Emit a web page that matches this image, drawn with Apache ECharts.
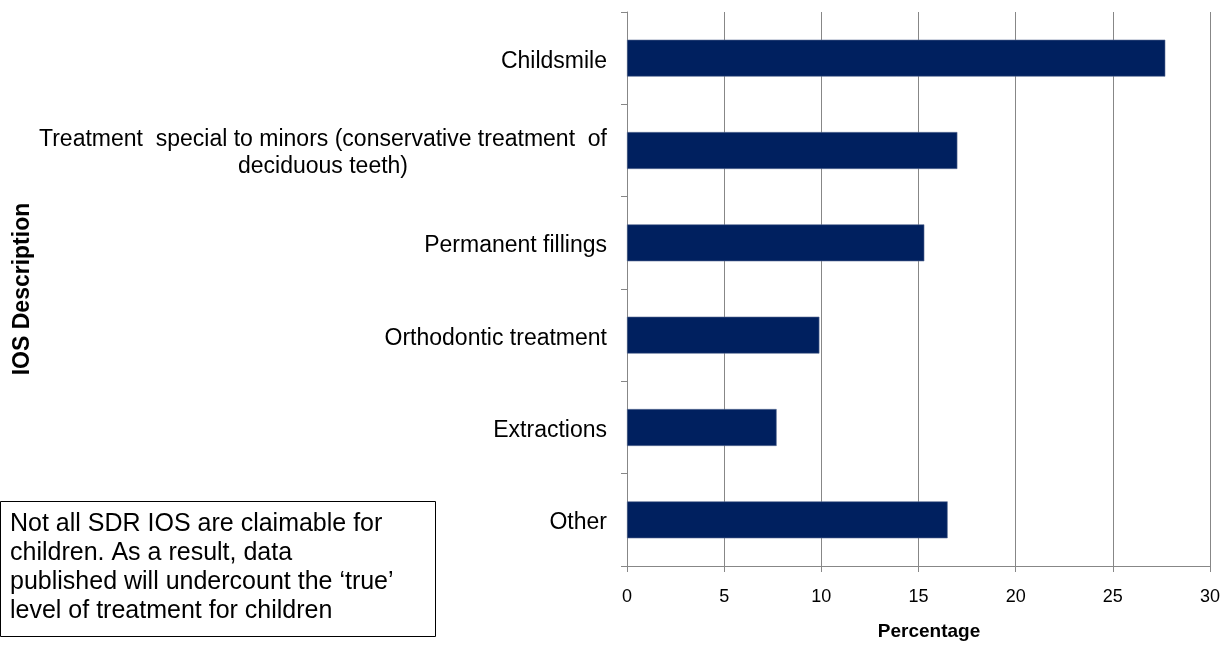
<!DOCTYPE html>
<html>
<head>
<meta charset="utf-8">
<script src="https://cdn.jsdelivr.net/npm/echarts@6/dist/echarts.min.js"></script>
<style>
  html, body { margin: 0; padding: 0; background: #fff; }
  #chart { width: 1225px; height: 646px; }
</style>
</head>
<body>
<div id="chart"></div>
<script>
// 类别（从上到下）
var categories = [
  'Childsmile',
  'Treatment  special to minors (conservative treatment  of\ndeciduous teeth)',
  'Permanent fillings',
  'Orthodontic treatment',
  'Extractions',
  'Other'
];
// 百分比
var percentages = [27.7, 17.0, 15.3, 9.9, 7.7, 16.5];
var xTicks = [0, 5, 10, 15, 20, 25, 30];

var noteLines = [
  'Not all SDR IOS are claimable for',
  'children. As a result, data',
  'published will undercount the \u2018true\u2019',
  'level of treatment for children'
];

var chart = echarts.init(document.getElementById('chart'));
var grey = '#878787';
var font = '"Liberation Sans", Arial, sans-serif';

chart.setOption({
  animation: false,
  grid: { left: 627, right: 15, top: 12, bottom: 79 },
  xAxis: {
    type: 'value',
    min: xTicks[0],
    max: xTicks[xTicks.length - 1],
    interval: 5,
    name: 'Percentage',
    nameLocation: 'middle',
    nameGap: 56,
    nameTextStyle: { fontFamily: font, fontWeight: 'bold', fontSize: 19, color: '#000', padding: [0, 0, 0, 21] },
    axisLine: { show: true, lineStyle: { color: grey, width: 1 } },
    axisTick: { show: true, length: 6, lineStyle: { color: grey } },
    axisLabel: { margin: 22, fontFamily: font, fontSize: 18, color: '#000' },
    splitLine: { show: true, lineStyle: { color: grey, width: 1 } }
  },
  yAxis: {
    type: 'category',
    inverse: true,
    data: categories,
    name: 'IOS Description',
    nameLocation: 'middle',
    nameGap: 593,
    nameRotate: 90,
    nameTextStyle: { fontFamily: font, fontWeight: 'bold', fontSize: 23, color: '#000' },
    axisLine: { show: true, lineStyle: { color: grey, width: 1 } },
    axisTick: { show: true, length: 6, lineStyle: { color: grey } },
    axisLabel: {
      margin: 20,
      fontFamily: font,
      fontSize: 23,
      color: '#000',
      lineHeight: 27,
      padding: [6, 0, 0, 0],
      formatter: function (v) {
        if (v.indexOf('\n') < 0) return v;
        // 两行的标签居中对齐
        return v.split('\n').map(function (s) { return '{c|' + s + '}'; }).join('\n');
      },
      rich: {
        c: { width: 568, align: 'center', fontFamily: font, fontSize: 23, lineHeight: 27, color: '#000' }
      }
    },
    splitLine: { show: false }
  },
  series: [{
    type: 'bar',
    data: percentages,
    barWidth: '40%',
    itemStyle: { color: '#00205f', borderColor: '#5a6d94', borderWidth: 0.6 }
  }],
  graphic: [{
    type: 'group',
    left: 0,
    top: 501,
    children: [{
      type: 'rect',
      shape: { x: 0.5, y: 0.5, width: 435, height: 135 },
      style: { fill: '#fff', stroke: '#000', lineWidth: 1 }
    }, {
      type: 'text',
      left: 10,
      top: 9,
      style: {
        text: noteLines.join('\n'),
        font: '25px ' + font,
        fill: '#000',
        lineHeight: 29
      }
    }]
  }]
});
</script>
</body>
</html>
